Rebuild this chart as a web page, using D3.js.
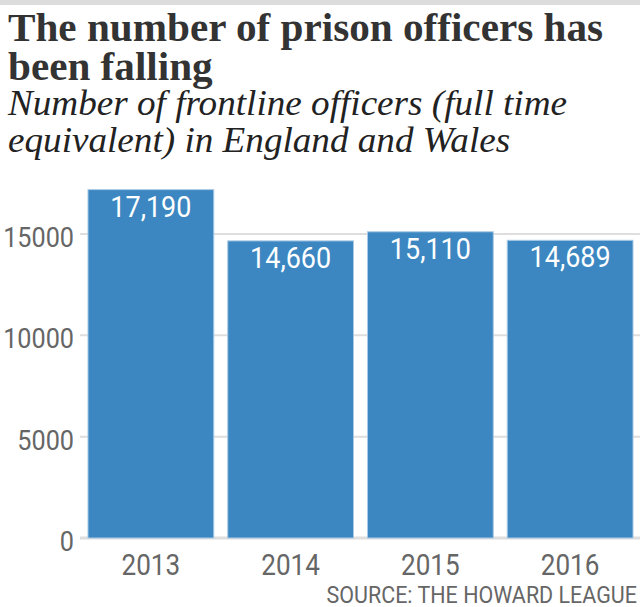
<!DOCTYPE html>
<html><head><meta charset="utf-8">
<script src="https://cdn.jsdelivr.net/npm/d3@7"></script>
<style>
body{margin:0;background:#fff;}
svg{display:block;}
</style></head>
<body>
<script>
const categories = ["2013","2014","2015","2016"];
const values = [17190,14660,15110,14689];
const valueLabels = ["17,190","14,660","15,110","14,689"];
const yTicks = [0,5000,10000,15000];
const titleLines = ["The number of prison officers has","been falling"];
const subtitleLines = ["Number of frontline officers (full time","equivalent) in England and Wales"];
const source = "SOURCE: THE HOWARD LEAGUE";

const W=640,H=607;
const svg=d3.select("body").append("svg").attr("width",W).attr("height",H);
svg.append("rect").attr("x",0).attr("y",0).attr("width",W).attr("height",5).attr("fill","#dcdcdc");

const sans="Roboto, 'Noto Sans', sans-serif";
function condense(sel,f){
  sel.each(function(){
    const n=this.getComputedTextLength();
    d3.select(this).attr("textLength",n*f).attr("lengthAdjust","spacingAndGlyphs");
  });
}

const tsel=svg.selectAll("text.title").data(titleLines).enter().append("text")
  .attr("class","title")
  .attr("x",8).attr("y",(d,i)=>41+i*39)
  .attr("font-family","'Liberation Serif', serif").attr("font-weight","bold")
  .attr("font-size",39).attr("fill","#333").text(d=>d);
const tf=595/tsel.nodes()[0].getComputedTextLength();
condense(tsel,tf);

const ssel=svg.selectAll("text.sub").data(subtitleLines).enter().append("text")
  .attr("class","sub")
  .attr("x",8).attr("y",(d,i)=>115+i*37)
  .attr("font-family","'Liberation Serif', serif").attr("font-style","italic")
  .attr("font-size",36).attr("fill","#222").text(d=>d);
const sf=559/ssel.nodes()[0].getComputedTextLength();
condense(ssel,sf);

const x=d3.scaleBand().domain(categories).range([81,640]).paddingInner(0.1).paddingOuter(0.05);
const y=d3.scaleLinear().domain([0,15000]).range([538,234]);

const g=svg.append("g");
g.selectAll("line.grid").data(yTicks).enter().append("line")
  .attr("x1",80).attr("x2",640).attr("y1",d=>y(d)).attr("y2",d=>y(d))
  .attr("stroke","#dedede").attr("stroke-width",d=>d===0?3:2);
const yt=g.selectAll("text.ytick").data(yTicks).enter().append("text")
  .attr("x",74).attr("y",d=>y(d)+13).attr("text-anchor","end")
  .attr("font-family",sans).attr("font-size",28).attr("fill","#666").text(d=>d);
condense(yt,0.9);

svg.selectAll("rect.bar").data(values).enter().append("rect")
  .attr("x",(d,i)=>x(categories[i])).attr("width",x.bandwidth())
  .attr("y",d=>y(d)).attr("height",d=>y(0)-y(d))
  .attr("fill","#3c87c1").attr("stroke","#a9c9e6").attr("stroke-width",1);

const vl=svg.selectAll("text.val").data(values).enter().append("text")
  .attr("x",(d,i)=>x(categories[i])+x.bandwidth()/2).attr("y",d=>y(d)+27)
  .attr("text-anchor","middle").attr("font-family",sans).attr("font-size",29)
  .attr("fill","#fff").text((d,i)=>valueLabels[i]);
condense(vl,0.93);

const xt=svg.selectAll("text.xtick").data(categories).enter().append("text")
  .attr("x",d=>x(d)+x.bandwidth()/2).attr("y",575).attr("text-anchor","middle")
  .attr("font-family",sans).attr("font-size",29).attr("fill","#666").text(d=>d);
condense(xt,0.9);

const src=svg.append("text").attr("x",637).attr("y",603).attr("text-anchor","end")
  .attr("font-family",sans).attr("font-size",23).attr("fill","#666").text(source);
condense(src,0.934);
</script>
</body></html>
